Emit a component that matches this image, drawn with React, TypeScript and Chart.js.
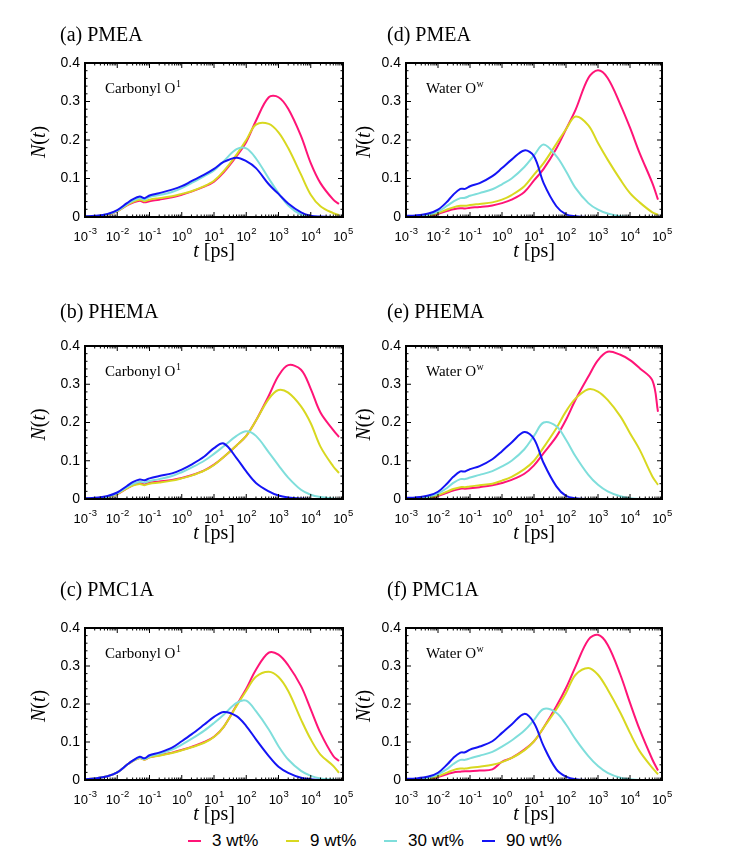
import React, { useEffect, useRef } from "react";
import { Chart, registerables } from "chart.js";

Chart.register(...registerables);

// ---------- data ----------
const times = [
  0.001, 0.002, 0.005, 0.01, 0.02, 0.03, 0.05, 0.07, 0.1, 0.2, 0.5, 1, 2, 5, 10, 20, 50, 100, 200, 500,
  1000, 2000, 5000, 10000, 20000, 50000, 75000,
];

const seriesLabels = ["3 wt%", "9 wt%", "30 wt%", "90 wt%"];
const seriesColors = ["#ff1477", "#d8d820", "#7fdedb", "#1414f5"];

const xTickExponents = [-3, -2, -1, 0, 1, 2, 3, 4, 5];
const xTickExponentLabels = ["-3", "-2", "-1", "0", "1", "2", "3", "4", "5"];
const xMinorMultipliers = [2, 3, 4, 5, 6, 7, 8, 9];
const yTicks = [0, 0.1, 0.2, 0.3, 0.4];
const yTickLabels = ["0", "0.1", "0.2", "0.3", "0.4"];
const yMinorTicks = [0.02, 0.04, 0.06, 0.08, 0.12, 0.14, 0.16, 0.18, 0.22, 0.24, 0.26, 0.28, 0.32, 0.34, 0.36, 0.38];

const panelTitles = ["(a) PMEA", "(b) PHEMA", "(c) PMC1A", "(d) PMEA", "(e) PHEMA", "(f) PMC1A"];

// (a) PMEA, carbonyl O1
const pmeaCarbonyl3 = [0.001, 0.002, 0.006, 0.015, 0.030, 0.037, 0.042, 0.038, 0.041, 0.045, 0.051, 0.058, 0.066, 0.079, 0.092, 0.116, 0.158, 0.195, 0.250, 0.311, 0.311, 0.281, 0.210, 0.140, 0.088, 0.045, 0.034];
const pmeaCarbonyl9 = [0.001, 0.002, 0.006, 0.015, 0.031, 0.039, 0.045, 0.041, 0.045, 0.049, 0.054, 0.060, 0.067, 0.080, 0.094, 0.119, 0.162, 0.200, 0.240, 0.242, 0.220, 0.179, 0.110, 0.058, 0.028, 0.010, 0.005];
const pmeaCarbonyl30 = [0.001, 0.002, 0.007, 0.016, 0.033, 0.042, 0.049, 0.045, 0.052, 0.057, 0.065, 0.075, 0.088, 0.106, 0.121, 0.145, 0.176, 0.178, 0.152, 0.100, 0.062, 0.030, 0.006, 0.001, 0, 0, 0];
const pmeaCarbonyl90 = [0.002, 0.003, 0.008, 0.018, 0.036, 0.046, 0.053, 0.049, 0.056, 0.062, 0.071, 0.080, 0.093, 0.110, 0.125, 0.143, 0.154, 0.145, 0.127, 0.085, 0.060, 0.035, 0.012, 0.003, 0.001, 0, 0];

// (b) PHEMA, carbonyl O1
const phemaCarbonyl3 = [0.001, 0.002, 0.005, 0.013, 0.028, 0.036, 0.042, 0.038, 0.043, 0.046, 0.050, 0.055, 0.062, 0.075, 0.090, 0.110, 0.140, 0.165, 0.205, 0.270, 0.322, 0.350, 0.338, 0.288, 0.226, 0.180, 0.162];
const phemaCarbonyl9 = [0.001, 0.002, 0.005, 0.013, 0.028, 0.035, 0.039, 0.036, 0.040, 0.043, 0.048, 0.054, 0.061, 0.074, 0.089, 0.110, 0.140, 0.165, 0.205, 0.262, 0.285, 0.278, 0.242, 0.198, 0.137, 0.085, 0.068];
const phemaCarbonyl30 = [0.001, 0.002, 0.006, 0.015, 0.031, 0.039, 0.045, 0.043, 0.047, 0.052, 0.060, 0.070, 0.082, 0.100, 0.118, 0.138, 0.165, 0.177, 0.165, 0.122, 0.088, 0.056, 0.024, 0.011, 0.005, 0.001, 0];
const phemaCarbonyl90 = [0.002, 0.003, 0.008, 0.017, 0.034, 0.044, 0.051, 0.049, 0.054, 0.060, 0.067, 0.077, 0.090, 0.111, 0.133, 0.145, 0.107, 0.072, 0.042, 0.020, 0.009, 0.004, 0.001, 0, 0, 0, 0];

// (c) PMC1A, carbonyl O1
const pmc1aCarbonyl3 = [0.002, 0.004, 0.010, 0.020, 0.040, 0.050, 0.058, 0.054, 0.060, 0.065, 0.072, 0.079, 0.087, 0.100, 0.114, 0.140, 0.197, 0.240, 0.290, 0.335, 0.330, 0.302, 0.247, 0.186, 0.124, 0.063, 0.050];
const pmc1aCarbonyl9 = [0.002, 0.004, 0.010, 0.020, 0.040, 0.050, 0.058, 0.053, 0.060, 0.064, 0.071, 0.078, 0.086, 0.098, 0.113, 0.140, 0.195, 0.235, 0.272, 0.285, 0.271, 0.234, 0.159, 0.107, 0.067, 0.037, 0.019];
const pmc1aCarbonyl30 = [0.002, 0.004, 0.010, 0.020, 0.040, 0.050, 0.059, 0.055, 0.062, 0.069, 0.080, 0.093, 0.108, 0.130, 0.150, 0.172, 0.203, 0.209, 0.181, 0.133, 0.089, 0.054, 0.024, 0.011, 0.004, 0.001, 0];
const pmc1aCarbonyl90 = [0.002, 0.004, 0.010, 0.020, 0.040, 0.051, 0.061, 0.057, 0.065, 0.072, 0.085, 0.102, 0.120, 0.146, 0.166, 0.179, 0.168, 0.142, 0.107, 0.063, 0.035, 0.019, 0.006, 0.002, 0, 0, 0];

// (d) PMEA, water Ow
const pmeaWater3 = [0, 0.001, 0.003, 0.008, 0.016, 0.020, 0.023, 0.022, 0.024, 0.026, 0.030, 0.036, 0.045, 0.065, 0.095, 0.125, 0.178, 0.228, 0.279, 0.361, 0.381, 0.361, 0.292, 0.232, 0.166, 0.088, 0.045];
const pmeaWater9 = [0, 0.001, 0.004, 0.010, 0.020, 0.025, 0.029, 0.029, 0.031, 0.034, 0.038, 0.045, 0.057, 0.080, 0.110, 0.140, 0.190, 0.228, 0.261, 0.238, 0.192, 0.149, 0.097, 0.062, 0.038, 0.012, 0.006];
const pmeaWater30 = [0.001, 0.002, 0.006, 0.014, 0.030, 0.040, 0.049, 0.050, 0.055, 0.062, 0.072, 0.085, 0.100, 0.130, 0.160, 0.188, 0.158, 0.119, 0.075, 0.036, 0.019, 0.009, 0.002, 0, 0, 0, 0];
const pmeaWater90 = [0.003, 0.004, 0.009, 0.019, 0.041, 0.058, 0.073, 0.073, 0.080, 0.088, 0.106, 0.127, 0.149, 0.173, 0.158, 0.088, 0.028, 0.007, 0.002, 0, 0, 0, 0, 0, 0, 0, 0];

// (e) PHEMA, water Ow
const phemaWater3 = [0, 0.001, 0.003, 0.008, 0.017, 0.022, 0.027, 0.027, 0.028, 0.031, 0.036, 0.042, 0.050, 0.066, 0.088, 0.120, 0.163, 0.207, 0.260, 0.320, 0.363, 0.385, 0.377, 0.363, 0.342, 0.310, 0.228];
const phemaWater9 = [0, 0.001, 0.004, 0.010, 0.020, 0.026, 0.031, 0.031, 0.033, 0.036, 0.040, 0.048, 0.058, 0.078, 0.100, 0.135, 0.185, 0.229, 0.263, 0.287, 0.281, 0.259, 0.216, 0.172, 0.129, 0.059, 0.037];
const phemaWater30 = [0.001, 0.002, 0.006, 0.014, 0.030, 0.042, 0.052, 0.052, 0.056, 0.063, 0.073, 0.085, 0.100, 0.130, 0.165, 0.200, 0.190, 0.155, 0.111, 0.063, 0.037, 0.020, 0.007, 0.002, 0, 0, 0];
const phemaWater90 = [0.003, 0.004, 0.009, 0.019, 0.042, 0.058, 0.072, 0.072, 0.078, 0.086, 0.104, 0.125, 0.148, 0.175, 0.157, 0.094, 0.033, 0.008, 0.002, 0, 0, 0, 0, 0, 0, 0, 0];

// (f) PMC1A, water Ow
const pmc1aWater3 = [0, 0.001, 0.003, 0.008, 0.016, 0.020, 0.022, 0.023, 0.023, 0.025, 0.028, 0.048, 0.058, 0.080, 0.102, 0.138, 0.194, 0.242, 0.299, 0.369, 0.382, 0.356, 0.277, 0.203, 0.133, 0.054, 0.025];
const pmc1aWater9 = [0, 0.001, 0.004, 0.010, 0.020, 0.026, 0.030, 0.030, 0.032, 0.035, 0.040, 0.047, 0.058, 0.078, 0.102, 0.138, 0.186, 0.229, 0.277, 0.295, 0.277, 0.238, 0.177, 0.124, 0.076, 0.032, 0.015];
const pmc1aWater30 = [0.001, 0.002, 0.006, 0.015, 0.030, 0.042, 0.053, 0.053, 0.057, 0.064, 0.074, 0.088, 0.104, 0.130, 0.158, 0.187, 0.177, 0.146, 0.107, 0.063, 0.037, 0.019, 0.006, 0.002, 0, 0, 0];
const pmc1aWater90 = [0.003, 0.004, 0.009, 0.019, 0.042, 0.058, 0.072, 0.073, 0.080, 0.088, 0.102, 0.124, 0.146, 0.174, 0.150, 0.089, 0.028, 0.009, 0.002, 0, 0, 0, 0, 0, 0, 0, 0];

// ---------- layout ----------
const PAD_TOP = 50;
const PAD_RIGHT = 14;
const Y_AXIS_W = 70;
const X_AXIS_H = 50;

const colLeft = [85, 406];
const colWidth = [258, 256];
const colTitleDx = [-25, -19];
const colYLabelDx = [45, 41];
const rowTop = [63, 346, 628];
const rowHeight = [154, 153, 152];
const rowTitleY = [36, 313, 591];

type PanelDef = {
  title: string;
  probe: string;
  probeSup: string;
  series: number[][];
  col: number;
  row: number;
};

const panels: PanelDef[] = [
  { title: panelTitles[0], probe: "Carbonyl O", probeSup: "1", series: [pmeaCarbonyl3, pmeaCarbonyl9, pmeaCarbonyl30, pmeaCarbonyl90], col: 0, row: 0 },
  { title: panelTitles[1], probe: "Carbonyl O", probeSup: "1", series: [phemaCarbonyl3, phemaCarbonyl9, phemaCarbonyl30, phemaCarbonyl90], col: 0, row: 1 },
  { title: panelTitles[2], probe: "Carbonyl O", probeSup: "1", series: [pmc1aCarbonyl3, pmc1aCarbonyl9, pmc1aCarbonyl30, pmc1aCarbonyl90], col: 0, row: 2 },
  { title: panelTitles[3], probe: "Water O", probeSup: "w", series: [pmeaWater3, pmeaWater9, pmeaWater30, pmeaWater90], col: 1, row: 0 },
  { title: panelTitles[4], probe: "Water O", probeSup: "w", series: [phemaWater3, phemaWater9, phemaWater30, phemaWater90], col: 1, row: 1 },
  { title: panelTitles[5], probe: "Water O", probeSup: "w", series: [pmc1aWater3, pmc1aWater9, pmc1aWater30, pmc1aWater90], col: 1, row: 2 },
];

const SANS = '"Liberation Sans", Arial, sans-serif';
const SERIF = '"Liberation Serif", "Times New Roman", serif';

function drawRuns(ctx: CanvasRenderingContext2D, runs: [string, string][], x: number, y: number, align: "left" | "center") {
  let total = 0;
  runs.forEach(([font, txt]) => {
    ctx.font = font;
    total += ctx.measureText(txt).width;
  });
  let cx = align === "center" ? x - total / 2 : x;
  runs.forEach(([font, txt]) => {
    ctx.font = font;
    ctx.fillText(txt, cx, y);
    cx += ctx.measureText(txt).width;
  });
}

const decorPlugin = {
  id: "panelDecor",
  afterDraw(chart: any, _args: any, opts: any) {
    const ctx: CanvasRenderingContext2D = chart.ctx;
    const a = chart.chartArea;
    const xs = chart.scales.x;
    const ys = chart.scales.y;
    ctx.save();
    ctx.strokeStyle = "#000";
    ctx.fillStyle = "#000";

    // inward ticks on all four sides
    const MAJ = 5;
    const MIN = 2.5;
    ctx.lineWidth = 1;
    ctx.beginPath();
    xTickExponents.forEach((e) => {
      const base = Math.pow(10, e);
      const px = xs.getPixelForValue(base);
      ctx.moveTo(px, a.bottom);
      ctx.lineTo(px, a.bottom - MAJ);
      ctx.moveTo(px, a.top);
      ctx.lineTo(px, a.top + MAJ);
      if (e < 5) {
        xMinorMultipliers.forEach((m) => {
          const q = xs.getPixelForValue(base * m);
          ctx.moveTo(q, a.bottom);
          ctx.lineTo(q, a.bottom - MIN);
          ctx.moveTo(q, a.top);
          ctx.lineTo(q, a.top + MIN);
        });
      }
    });
    yTicks.forEach((v) => {
      const py = ys.getPixelForValue(v);
      ctx.moveTo(a.left, py);
      ctx.lineTo(a.left + MAJ, py);
      ctx.moveTo(a.right, py);
      ctx.lineTo(a.right - MAJ, py);
    });
    yMinorTicks.forEach((v) => {
      const py = ys.getPixelForValue(v);
      ctx.moveTo(a.left, py);
      ctx.lineTo(a.left + MIN, py);
      ctx.moveTo(a.right, py);
      ctx.lineTo(a.right - MIN, py);
    });
    ctx.stroke();

    // frame
    ctx.lineWidth = 2;
    ctx.strokeRect(a.left, a.top, a.right - a.left, a.bottom - a.top);

    // x tick labels 10^n
    ctx.textBaseline = "alphabetic";
    xTickExponents.forEach((e, i) => {
      const px = xs.getPixelForValue(Math.pow(10, e));
      ctx.font = `13px ${SANS}`;
      const w1 = ctx.measureText("10").width;
      ctx.font = `9.5px ${SANS}`;
      const sup = xTickExponentLabels[i];
      const w2 = ctx.measureText(sup).width;
      const x0 = px - (w1 + w2) / 2;
      ctx.font = `13px ${SANS}`;
      ctx.fillText("10", x0, a.bottom + 23.5);
      ctx.font = `9.5px ${SANS}`;
      ctx.fillText(sup, x0 + w1 + 0.5, a.bottom + 16.5);
    });

    // x axis title: t [ps]
    drawRuns(
      ctx,
      [
        [`italic 20px ${SERIF}`, "t"],
        [`20px ${SERIF}`, " [ps]"],
      ],
      (a.left + a.right) / 2,
      a.bottom + 40,
      "center"
    );

    // y axis title: N(t)
    ctx.save();
    ctx.translate(a.left - opts.yLabelDx, (a.top + a.bottom) / 2 + 2);
    ctx.rotate(-Math.PI / 2);
    ctx.textBaseline = "middle";
    drawRuns(
      ctx,
      [
        [`italic 20px ${SERIF}`, "N"],
        [`20px ${SERIF}`, "("],
        [`italic 20px ${SERIF}`, "t"],
        [`20px ${SERIF}`, ")"],
      ],
      0,
      0,
      "center"
    );
    ctx.restore();

    // panel title
    ctx.textBaseline = "middle";
    ctx.font = `20px ${SERIF}`;
    ctx.fillText(opts.title, a.left + opts.titleDx, opts.titleY);

    // probe annotation with superscript
    ctx.textBaseline = "alphabetic";
    const px0 = a.left + 20;
    const py0 = a.top + 30;
    ctx.font = `15px ${SERIF}`;
    ctx.fillText(opts.probe, px0, py0);
    const pw = ctx.measureText(opts.probe).width;
    ctx.font = `10px ${SERIF}`;
    ctx.fillText(opts.probeSup, px0 + pw + 0.5, py0 - 6);

    ctx.restore();
  },
};

function Panel({ p }: { p: PanelDef }) {
  const ref = useRef<HTMLCanvasElement>(null);
  const areaLeft = colLeft[p.col];
  const areaW = colWidth[p.col];
  const areaTop = rowTop[p.row];
  const areaH = rowHeight[p.row];
  const left = areaLeft - Y_AXIS_W;
  const top = areaTop - PAD_TOP;
  const width = Y_AXIS_W + areaW + PAD_RIGHT;
  const height = PAD_TOP + areaH + X_AXIS_H;

  useEffect(() => {
    if (!ref.current) return;
    const chart = new Chart(ref.current, {
      type: "line",
      data: {
        datasets: p.series.map((vals, i) => ({
          label: seriesLabels[i],
          data: times.map((t, j) => ({ x: t, y: vals[j] })),
          borderColor: seriesColors[i],
          backgroundColor: seriesColors[i],
          borderWidth: 2,
          pointRadius: 0,
          fill: false,
          tension: 0.35,
          order: 3 - i,
        })),
      },
      options: {
        responsive: false,
        maintainAspectRatio: false,
        animation: false,
        events: [],
        devicePixelRatio: 1,
        layout: { padding: { left: 0, top: PAD_TOP, right: PAD_RIGHT, bottom: 0 } },
        plugins: {
          legend: { display: false },
          tooltip: { enabled: false },
          title: { display: false },
          panelDecor: {
            title: p.title,
            probe: p.probe,
            probeSup: p.probeSup,
            titleDx: colTitleDx[p.col],
            titleY: rowTitleY[p.row] - top,
            yLabelDx: colYLabelDx[p.col],
          },
        } as any,
        scales: {
          x: {
            type: "logarithmic",
            min: 0.001,
            max: 100000,
            ticks: { display: false },
            grid: { display: false, drawTicks: false },
            border: { display: false },
            afterFit: (s: any) => {
              s.height = X_AXIS_H;
            },
          },
          y: {
            type: "linear",
            min: 0,
            max: 0.4,
            afterBuildTicks: (s: any) => {
              s.ticks = yTicks.map((v) => ({ value: v }));
            },
            ticks: {
              color: "#000",
              padding: 5,
              font: { family: SANS, size: 14 },
              callback: (v: any) => {
                const i = yTicks.findIndex((t) => Math.abs(t - Number(v)) < 1e-9);
                return i >= 0 ? yTickLabels[i] : "";
              },
            },
            grid: { display: false, drawTicks: false },
            border: { display: false },
            afterFit: (s: any) => {
              s.width = Y_AXIS_W;
            },
          },
        },
      } as any,
      plugins: [decorPlugin],
    });
    return () => chart.destroy();
  }, []);

  return (
    <canvas
      ref={ref}
      width={width}
      height={height}
      style={{ position: "absolute", left, top, width, height }}
    />
  );
}

function Legend() {
  return (
    <div
      style={{
        position: "absolute",
        left: 188,
        top: 831,
        display: "flex",
        fontFamily: SANS,
        fontSize: 17,
        color: "#000",
        lineHeight: "20px",
      }}
    >
      {seriesLabels.map((lab, i) => (
        <div key={lab} style={{ width: 98, display: "flex", alignItems: "center" }}>
          <span style={{ display: "inline-block", width: 13, height: 2, background: seriesColors[i], marginRight: 11 }} />
          <span>{lab}</span>
        </div>
      ))}
    </div>
  );
}

export default function App() {
  return (
    <div style={{ position: "absolute", left: 0, top: 0, width: 747, height: 867, background: "#fff", overflow: "hidden" }}>
      {panels.map((p) => (
        <Panel key={p.title + p.col} p={p} />
      ))}
      <Legend />
    </div>
  );
}
